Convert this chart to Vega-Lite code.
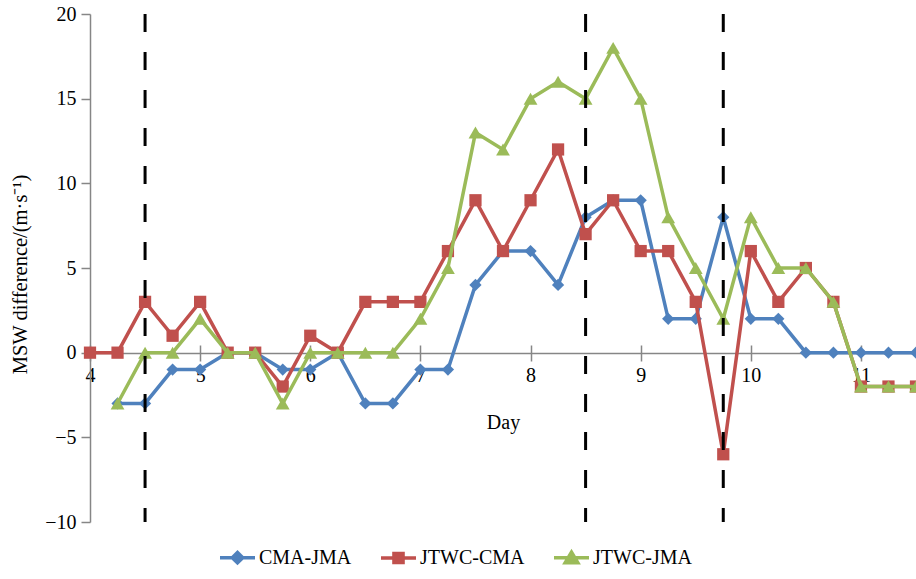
{
  "$schema": "https://vega.github.io/schema/vega-lite/v6.json",
  "width": 826,
  "height": 508,
  "autosize": {"type": "none"},
  "padding": {"left": 90, "top": 14, "right": 0, "bottom": 57},
  "config": {
    "font": "Liberation Serif",
    "view": {"stroke": null},
    "axis": {"grid": false}
  },
  "datasets": {
    "series": [
      {"day": 4.25, "series": "CMA-JMA", "value": -3},
      {"day": 4.5, "series": "CMA-JMA", "value": -3},
      {"day": 4.75, "series": "CMA-JMA", "value": -1},
      {"day": 5, "series": "CMA-JMA", "value": -1},
      {"day": 5.25, "series": "CMA-JMA", "value": 0},
      {"day": 5.5, "series": "CMA-JMA", "value": 0},
      {"day": 5.75, "series": "CMA-JMA", "value": -1},
      {"day": 6, "series": "CMA-JMA", "value": -1},
      {"day": 6.25, "series": "CMA-JMA", "value": 0},
      {"day": 6.5, "series": "CMA-JMA", "value": -3},
      {"day": 6.75, "series": "CMA-JMA", "value": -3},
      {"day": 7, "series": "CMA-JMA", "value": -1},
      {"day": 7.25, "series": "CMA-JMA", "value": -1},
      {"day": 7.5, "series": "CMA-JMA", "value": 4},
      {"day": 7.75, "series": "CMA-JMA", "value": 6},
      {"day": 8, "series": "CMA-JMA", "value": 6},
      {"day": 8.25, "series": "CMA-JMA", "value": 4},
      {"day": 8.5, "series": "CMA-JMA", "value": 8},
      {"day": 8.75, "series": "CMA-JMA", "value": 9},
      {"day": 9, "series": "CMA-JMA", "value": 9},
      {"day": 9.25, "series": "CMA-JMA", "value": 2},
      {"day": 9.5, "series": "CMA-JMA", "value": 2},
      {"day": 9.75, "series": "CMA-JMA", "value": 8},
      {"day": 10, "series": "CMA-JMA", "value": 2},
      {"day": 10.25, "series": "CMA-JMA", "value": 2},
      {"day": 10.5, "series": "CMA-JMA", "value": 0},
      {"day": 10.75, "series": "CMA-JMA", "value": 0},
      {"day": 11, "series": "CMA-JMA", "value": 0},
      {"day": 11.25, "series": "CMA-JMA", "value": 0},
      {"day": 11.5, "series": "CMA-JMA", "value": 0},
      {"day": 4, "series": "JTWC-CMA", "value": 0},
      {"day": 4.25, "series": "JTWC-CMA", "value": 0},
      {"day": 4.5, "series": "JTWC-CMA", "value": 3},
      {"day": 4.75, "series": "JTWC-CMA", "value": 1},
      {"day": 5, "series": "JTWC-CMA", "value": 3},
      {"day": 5.25, "series": "JTWC-CMA", "value": 0},
      {"day": 5.5, "series": "JTWC-CMA", "value": 0},
      {"day": 5.75, "series": "JTWC-CMA", "value": -2},
      {"day": 6, "series": "JTWC-CMA", "value": 1},
      {"day": 6.25, "series": "JTWC-CMA", "value": 0},
      {"day": 6.5, "series": "JTWC-CMA", "value": 3},
      {"day": 6.75, "series": "JTWC-CMA", "value": 3},
      {"day": 7, "series": "JTWC-CMA", "value": 3},
      {"day": 7.25, "series": "JTWC-CMA", "value": 6},
      {"day": 7.5, "series": "JTWC-CMA", "value": 9},
      {"day": 7.75, "series": "JTWC-CMA", "value": 6},
      {"day": 8, "series": "JTWC-CMA", "value": 9},
      {"day": 8.25, "series": "JTWC-CMA", "value": 12},
      {"day": 8.5, "series": "JTWC-CMA", "value": 7},
      {"day": 8.75, "series": "JTWC-CMA", "value": 9},
      {"day": 9, "series": "JTWC-CMA", "value": 6},
      {"day": 9.25, "series": "JTWC-CMA", "value": 6},
      {"day": 9.5, "series": "JTWC-CMA", "value": 3},
      {"day": 9.75, "series": "JTWC-CMA", "value": -6},
      {"day": 10, "series": "JTWC-CMA", "value": 6},
      {"day": 10.25, "series": "JTWC-CMA", "value": 3},
      {"day": 10.5, "series": "JTWC-CMA", "value": 5},
      {"day": 10.75, "series": "JTWC-CMA", "value": 3},
      {"day": 11, "series": "JTWC-CMA", "value": -2},
      {"day": 11.25, "series": "JTWC-CMA", "value": -2},
      {"day": 11.5, "series": "JTWC-CMA", "value": -2},
      {"day": 4.25, "series": "JTWC-JMA", "value": -3},
      {"day": 4.5, "series": "JTWC-JMA", "value": 0},
      {"day": 4.75, "series": "JTWC-JMA", "value": 0},
      {"day": 5, "series": "JTWC-JMA", "value": 2},
      {"day": 5.25, "series": "JTWC-JMA", "value": 0},
      {"day": 5.5, "series": "JTWC-JMA", "value": 0},
      {"day": 5.75, "series": "JTWC-JMA", "value": -3},
      {"day": 6, "series": "JTWC-JMA", "value": 0},
      {"day": 6.25, "series": "JTWC-JMA", "value": 0},
      {"day": 6.5, "series": "JTWC-JMA", "value": 0},
      {"day": 6.75, "series": "JTWC-JMA", "value": 0},
      {"day": 7, "series": "JTWC-JMA", "value": 2},
      {"day": 7.25, "series": "JTWC-JMA", "value": 5},
      {"day": 7.5, "series": "JTWC-JMA", "value": 13},
      {"day": 7.75, "series": "JTWC-JMA", "value": 12},
      {"day": 8, "series": "JTWC-JMA", "value": 15},
      {"day": 8.25, "series": "JTWC-JMA", "value": 16},
      {"day": 8.5, "series": "JTWC-JMA", "value": 15},
      {"day": 8.75, "series": "JTWC-JMA", "value": 18},
      {"day": 9, "series": "JTWC-JMA", "value": 15},
      {"day": 9.25, "series": "JTWC-JMA", "value": 8},
      {"day": 9.5, "series": "JTWC-JMA", "value": 5},
      {"day": 9.75, "series": "JTWC-JMA", "value": 2},
      {"day": 10, "series": "JTWC-JMA", "value": 8},
      {"day": 10.25, "series": "JTWC-JMA", "value": 5},
      {"day": 10.5, "series": "JTWC-JMA", "value": 5},
      {"day": 10.75, "series": "JTWC-JMA", "value": 3},
      {"day": 11, "series": "JTWC-JMA", "value": -2},
      {"day": 11.25, "series": "JTWC-JMA", "value": -2},
      {"day": 11.5, "series": "JTWC-JMA", "value": -2}
    ],
    "markers": [
      {"day": 4.5},
      {"day": 8.5},
      {"day": 9.75}
    ]
  },
  "layer": [
    {
      "data": {"name": "series"},
      "encoding": {
        "x": {
          "field": "day",
          "type": "quantitative",
          "scale": {"domain": [4, 11.5], "nice": false, "zero": false},
          "axis": {
            "orient": "bottom",
            "values": [4, 5, 6, 7, 8, 9, 10, 11],
            "format": "d",
            "offset": -169,
            "tickSize": 8,
            "tickWidth": 1.5,
            "tickColor": "#868686",
            "domainColor": "#868686",
            "domainWidth": 1.5,
            "labelPadding": 4,
            "labelFontSize": 20,
            "labelColor": "#000000",
            "labelFlush": false,
            "labelOverlap": false,
            "title": "Day",
            "titleFontSize": 20,
            "titleFontWeight": "normal",
            "titleColor": "#000000",
            "titleBaseline": "top",
            "titleY": 59
          }
        },
        "y": {
          "field": "value",
          "type": "quantitative",
          "scale": {"domain": [-10, 20], "nice": false},
          "axis": {
            "values": [-10, -5, 0, 5, 10, 15, 20],
            "tickSize": 9,
            "tickWidth": 1.5,
            "tickColor": "#868686",
            "domainColor": "#868686",
            "domainWidth": 1.5,
            "labelPadding": 5,
            "labelFontSize": 20,
            "labelColor": "#000000",
            "labelFlush": false,
            "title": "MSW difference/(m·s⁻¹)",
            "titleFontSize": 20.5,
            "titleFontWeight": "normal",
            "titleColor": "#000000",
            "titleBaseline": "middle",
            "titleX": -70,
            "titleY": 260
          }
        },
        "color": {
          "field": "series",
          "type": "nominal",
          "scale": {
            "domain": ["CMA-JMA", "JTWC-CMA", "JTWC-JMA"],
            "range": ["#4F81BD", "#C0504D", "#9BBB59"]
          },
          "legend": {
            "title": null,
            "orient": "none",
            "direction": "horizontal",
            "legendX": 128,
            "legendY": 524,
            "padding": 0,
            "symbolSize": 1225,
            "symbolStrokeWidth": 3.5,
            "labelOffset": 2,
            "columnPadding": 22,
            "labelFontSize": 20,
            "labelColor": "#000000",
            "labelLimit": 300,
            "encode": {
              "symbols": {
                "update": {
                  "shape": {"signal": "datum.value === 'CMA-JMA' ? 'M-1,0L1,0M0,-0.3L0.3,0L0,0.3L-0.3,0Z' : datum.value === 'JTWC-CMA' ? 'M-1,0L1,0M-0.26,-0.26L0.26,-0.26L0.26,0.26L-0.26,0.26Z' : 'M-1,0L1,0M0,-0.32L0.36,0.28L-0.36,0.28Z'"},
                  "fill": {"scale": "color", "field": "value"},
                  "stroke": {"scale": "color", "field": "value"},
                  "strokeWidth": {"value": 3.5},
                  "opacity": {"value": 1}
                }
              }
            }
          }
        }
      },
      "layer": [
        {"transform": [{"filter": "datum.series === 'CMA-JMA'"}], "mark": {"type": "line", "strokeWidth": 3.5}},
        {"transform": [{"filter": "datum.series === 'CMA-JMA'"}], "mark": {"type": "point", "shape": "diamond", "filled": true, "size": 150, "opacity": 1}},
        {"transform": [{"filter": "datum.series === 'JTWC-CMA'"}], "mark": {"type": "line", "strokeWidth": 3.5}},
        {"transform": [{"filter": "datum.series === 'JTWC-CMA'"}], "mark": {"type": "point", "shape": "square", "filled": true, "size": 150, "opacity": 1}},
        {"transform": [{"filter": "datum.series === 'JTWC-JMA'"}], "mark": {"type": "line", "strokeWidth": 3.5}},
        {"transform": [{"filter": "datum.series === 'JTWC-JMA'"}], "mark": {"type": "point", "shape": "triangle-up", "filled": true, "size": 190, "opacity": 1}}
      ]
    },
    {
      "data": {"name": "markers"},
      "mark": {"type": "rule", "color": "#000000", "strokeWidth": 3, "strokeDash": [18, 20]},
      "encoding": {
        "x": {
          "field": "day",
          "type": "quantitative",
          "scale": {"domain": [4, 11.5], "nice": false, "zero": false},
          "axis": {
            "orient": "bottom",
            "values": [4, 5, 6, 7, 8, 9, 10, 11],
            "offset": -169,
            "tickSize": -8,
            "tickWidth": 1.5,
            "tickColor": "#868686",
            "domain": false,
            "labels": false,
            "title": null
          }
        }
      }
    }
  ],
  "resolve": {"axis": {"x": "independent"}}
}
